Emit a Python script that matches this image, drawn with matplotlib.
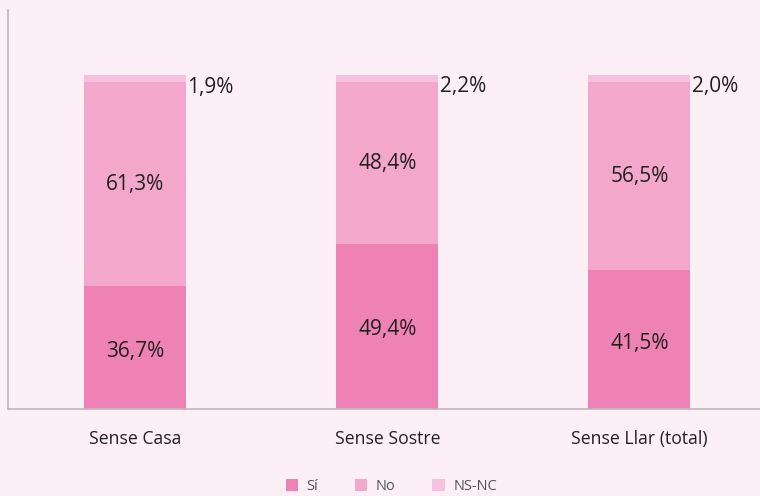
import numpy as np
import matplotlib.pyplot as plt
from matplotlib.patches import Patch

# Data
categories = ["Sense Casa", "Sense Sostre", "Sense Llar (total)"]
si = [36.7, 49.4, 41.5]
no = [61.3, 48.4, 56.5]
nsnc = [1.9, 2.2, 2.0]
series_names = ["Sí", "No", "NS-NC"]

colors = ["#ee82b4", "#f2a7cb", "#f6c1dc"]
bg = "#fcf0f6"
text_col = "#231f20"

plt.rcParams["font.family"] = ["Open Sans", "DejaVu Sans"]

fig = plt.figure(figsize=(7.6, 4.96), dpi=100, facecolor=bg)
ax = fig.add_axes([8 / 760, 87 / 496, 1 - 8 / 760, (409 - 10) / 496])
ax.set_facecolor(bg)

x = np.arange(len(categories))
w = 102 / 252

si = np.array(si)
no = np.array(no)
nsnc = np.array(nsnc)

ax.bar(x, si, w, color=colors[0], linewidth=0)
ax.bar(x, no, w, bottom=si, color=colors[1], linewidth=0)
ax.bar(x, nsnc, w, bottom=si + no, color=colors[2], linewidth=0)

def fmt(v):
    return f"{v:.1f}%".replace(".", ",")

for i in range(len(categories)):
    ax.text(x[i], si[i] / 2 - 1, fmt(si[i]), ha="center", va="center",
            fontsize=15, color=text_col)
    ax.text(x[i], si[i] + no[i] / 2, fmt(no[i]), ha="center", va="center",
            fontsize=15, color=text_col)
    ax.annotate(fmt(nsnc[i]), xy=(x[i] + w / 2, si[i] + no[i] + nsnc[i]),
                xytext=(1, -1), textcoords="offset points",
                ha="left", va="top", fontsize=15, color=text_col)

ax.set_xlim(-127 / 252, 2 + (760 - 639.5) / 252)
ax.set_ylim(0, 119.5)
ax.set_xticks(x)
ax.set_xticklabels(categories, fontsize=12.7, color=text_col)
ax.tick_params(axis="x", length=0, pad=15)
ax.set_yticks([])
for s in ["top", "right"]:
    ax.spines[s].set_visible(False)
for s in ["left", "bottom"]:
    ax.spines[s].set_color("#bdb8bb")
    ax.spines[s].set_linewidth(1.2)

handles = [Patch(facecolor=c, edgecolor="none") for c in colors]
leg = fig.legend(handles, series_names, loc="lower center", ncol=3,
                 bbox_to_anchor=(0.515, -0.022), frameon=False,
                 fontsize=10.5, handlelength=0.85, handleheight=0.85,
                 handletextpad=0.6, columnspacing=2.5)
for t in leg.get_texts():
    t.set_color("#555555")

fig.savefig("out.png", dpi=100, facecolor=bg)
